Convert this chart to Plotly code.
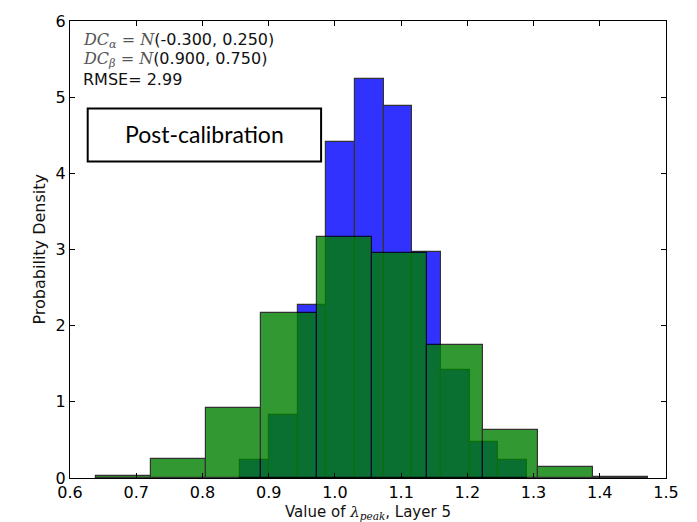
import plotly.graph_objects as go

# Blue histogram (narrow bins)
blue_edges = [0.857, 0.900, 0.944, 0.987, 1.030, 1.074, 1.117, 1.160, 1.204, 1.247, 1.290]
blue_density = [0.24, 0.83, 2.27, 4.41, 5.24, 4.88, 2.97, 1.42, 0.47, 0.23]

# Green histogram (wide bins)
green_edges = [0.6385, 0.722, 0.8055, 0.889, 0.9725, 1.056, 1.1395, 1.223, 1.3065, 1.390, 1.4735]
green_density = [0.03, 0.246, 0.92, 2.16, 3.16, 2.96, 1.74, 0.635, 0.143, 0.01]

x_ticks = [0.6, 0.7, 0.8, 0.9, 1.0, 1.1, 1.2, 1.3, 1.4, 1.5]
x_tick_labels = ["0.6", "0.7", "0.8", "0.9", "1.0", "1.1", "1.2", "1.3", "1.4", "1.5"]
y_ticks = [0, 1, 2, 3, 4, 5, 6]


def centers_widths(edges):
    c = [(a + b) / 2 for a, b in zip(edges[:-1], edges[1:])]
    w = [b - a for a, b in zip(edges[:-1], edges[1:])]
    return c, w


bc, bw = centers_widths(blue_edges)
gc, gw = centers_widths(green_edges)

fig = go.Figure()
fig.add_trace(go.Bar(x=bc, y=blue_density, width=bw, opacity=0.8,
                     marker=dict(color="rgb(0,0,255)", line=dict(color="black", width=1.2)),
                     showlegend=False))
fig.add_trace(go.Bar(x=gc, y=green_density, width=gw, opacity=0.8,
                     marker=dict(color="rgb(0,128,0)", line=dict(color="black", width=1.2)),
                     showlegend=False))

FONT = "DejaVu Sans"
axis_common = dict(showline=True, linecolor="black", linewidth=1.2, mirror="ticks",
                   ticks="inside", ticklen=5, tickcolor="black", tickwidth=1,
                   showgrid=False, zeroline=False,
                   tickfont=dict(family=FONT, size=16, color="black"))

fig.update_layout(
    width=697, height=522,
    margin=dict(l=70, r=31, t=16, b=44),
    plot_bgcolor="white", paper_bgcolor="white",
    barmode="overlay", bargap=0,
    xaxis=dict(range=[0.6, 1.5], tickvals=x_ticks, ticktext=x_tick_labels, **axis_common),
    yaxis=dict(range=[0, 6], tickvals=y_ticks, **axis_common),
)

ann_font = dict(family=FONT, size=16, color="#111")
mfont = "DejaVu Serif"
line1 = (f"<span style='font-family:{mfont};color:#555'><i>DC</i><sub><i>α</i></sub> = <i>N</i></span>"
         "(-0.300, 0.250)")
line2 = (f"<span style='font-family:{mfont};color:#555'><i>DC</i><sub><i>β</i></sub> = <i>N</i></span>"
         "(0.900, 0.750)")
line3 = "RMSE= 2.99"

for txt, y in [(line1, 0.957), (line2, 0.915), (line3, 0.871)]:
    fig.add_annotation(text=txt, xref="paper", yref="paper", x=0.019, y=y,
                       xanchor="left", yanchor="middle", showarrow=False, font=ann_font)

# Post-calibration box
fig.add_shape(type="rect", xref="paper", yref="paper", x0=0.0297, x1=0.4213, y0=0.6924, y1=0.8085,
              line=dict(color="black", width=2), fillcolor="white", layer="above")
fig.add_annotation(text="Post-calibration", xref="paper", yref="paper", x=0.2255, y=0.752,
                   xanchor="center", yanchor="middle", showarrow=False,
                   font=dict(family="Lato", size=23, color="black"))

# Axis titles
fig.add_annotation(text="Probability Density", xref="paper", yref="paper",
                   x=-0.052, y=0.5, xanchor="center", yanchor="middle", textangle=-90,
                   showarrow=False, font=dict(family=FONT, size=16, color="#111"))
fig.add_annotation(text=f"Value of <span style='font-family:{mfont}'><i>λ</i><sub><i>peak</i></sub></span>, Layer 5",
                   xref="paper", yref="paper", x=0.5, y=-0.076, xanchor="center", yanchor="middle",
                   showarrow=False, font=dict(family=FONT, size=15, color="#111"))

fig.write_html("out.html", config={"displayModeBar": False},
               post_script="document.body.style.margin='0';document.body.style.padding='0';")
